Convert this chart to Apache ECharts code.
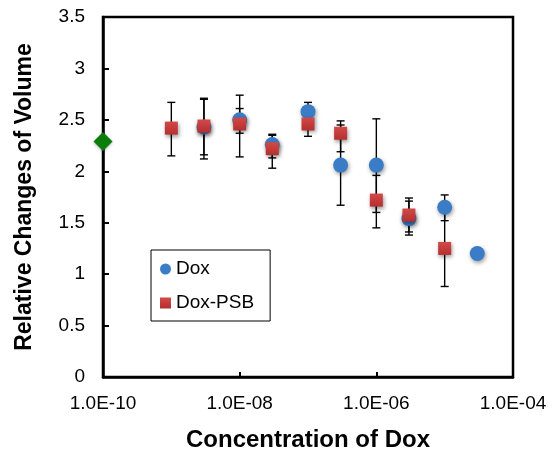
<!DOCTYPE html>
<html>
<head>
<meta charset="utf-8">
<script src="https://cdn.jsdelivr.net/npm/echarts@6/dist/echarts.min.js"></script>
<style>
  html, body { margin: 0; padding: 0; background: #fff; }
  #chart { width: 556px; height: 452px; }
</style>
</head>
<body>
<div id="chart"></div>
<script>
// 数据：浓度 (M) 与相对体积变化
var doxConc = [3e-9, 1e-8, 3e-8, 1e-7, 3e-7, 1e-6, 3e-6, 1e-5, 3e-5];
var doxVal  = [2.43, 2.50, 2.26, 2.58, 2.06, 2.06, 1.54, 1.65, 1.20];
var doxLow  = [2.12, 2.37, 2.13, 2.49, 1.67, 1.60, 1.38, 1.52, null];
var doxHigh = [2.70, 2.61, 2.36, 2.67, 2.45, 2.51, 1.71, 1.77, null];

var psbConc = [1e-9, 3e-9, 1e-8, 3e-8, 1e-7, 3e-7, 1e-6, 3e-6, 1e-5];
var psbVal  = [2.42, 2.44, 2.46, 2.22, 2.46, 2.37, 1.72, 1.575, 1.25];
var psbLow  = [2.15, 2.16, 2.14, 2.03, 2.34, 2.19, 1.45, 1.41, 0.88];
var psbHigh = [2.67, 2.71, 2.74, 2.35, 2.58, 2.49, 1.96, 1.74, 1.62];

var ctrlConc = [1e-10];
var ctrlVal  = [2.29];

var xTicks = [-10, -8, -6, -4];

var FONT = 'Liberation Sans, Arial, sans-serif';

(function () {
  var myChart = echarts.init(document.getElementById('chart'));

  function pts(conc, vals) {
    return conc.map(function (c, i) { return [Math.log10(c), vals[i]]; });
  }
  function bars(conc, lo, hi) {
    var out = [];
    conc.forEach(function (c, i) {
      if (lo[i] != null) out.push([Math.log10(c), lo[i], hi[i]]);
    });
    return out;
  }
  // 误差线
  function errRender(params, api) {
    var x = api.value(0);
    var top = api.coord([x, api.value(2)]);
    var bot = api.coord([x, api.value(1)]);
    var w = 4;
    var st = { stroke: '#000', lineWidth: 1.4 };
    return {
      type: 'group',
      children: [
        { type: 'line', shape: { x1: top[0], y1: top[1], x2: bot[0], y2: bot[1] }, style: st },
        { type: 'line', shape: { x1: top[0] - w, y1: top[1], x2: top[0] + w, y2: top[1] }, style: st },
        { type: 'line', shape: { x1: bot[0] - w, y1: bot[1], x2: bot[0] + w, y2: bot[1] }, style: st }
      ]
    };
  }

  var shadow = {
    opacity: 1,
    shadowBlur: 4,
    shadowColor: 'rgba(0,0,0,0.4)',
    shadowOffsetX: 1,
    shadowOffsetY: 2
  };

  var option = {
    animation: false,
    textStyle: { fontFamily: FONT },
    grid: {
      left: 103, right: 43, top: 17, bottom: 75,
      containLabel: false,
      outerBoundsMode: 'none',
      show: true,
      borderColor: '#000',
      borderWidth: 2.5
    },
    legend: {
      data: ['Dox', 'Dox-PSB'],
      orient: 'vertical',
      left: 151,
      top: 250,
      padding: [8, 16, 7, 9],
      itemGap: 12,
      itemWidth: 11,
      itemHeight: 11,
      borderColor: '#000',
      borderWidth: 1,
      textStyle: { fontSize: 19, color: '#000', fontFamily: FONT, lineHeight: 22 }
    },
    xAxis: {
      type: 'value',
      min: -10,
      max: -4,
      interval: 2,
      name: 'Concentration of Dox',
      nameLocation: 'middle',
      nameGap: 51,
      nameTextStyle: { fontSize: 24, fontWeight: 'bold', color: '#000', fontFamily: FONT },
      axisLine: { lineStyle: { color: '#000', width: 2.5 } },
      axisTick: { inside: true, length: 5, lineStyle: { color: '#000', width: 2 } },
      splitLine: { show: false },
      axisLabel: {
        fontSize: 19,
        color: '#000',
        margin: 17,
        formatter: function (v) {
          if (xTicks.indexOf(v) < 0) return '';
          return '1.0E-' + String(-v).padStart(2, '0');
        }
      }
    },
    yAxis: {
      type: 'value',
      min: 0,
      max: 3.5,
      interval: 0.5,
      name: 'Relative Changes of Volume',
      nameLocation: 'middle',
      nameGap: 67,
      nameTextStyle: { fontSize: 23, fontWeight: 'bold', color: '#000', fontFamily: FONT },
      axisLine: { lineStyle: { color: '#000', width: 2.5 } },
      axisTick: { inside: true, length: 6, lineStyle: { color: '#000', width: 2 } },
      splitLine: { show: false },
      axisLabel: { fontSize: 19, color: '#000', margin: 18 }
    },
    series: [
      {
        name: 'doxErr',
        type: 'custom',
        renderItem: errRender,
        data: bars(doxConc, doxLow, doxHigh),
        encode: { x: 0, y: [1, 2] },
        z: 1
      },
      {
        name: 'psbErr',
        type: 'custom',
        renderItem: errRender,
        data: bars(psbConc, psbLow, psbHigh),
        encode: { x: 0, y: [1, 2] },
        z: 1
      },
      {
        name: 'Dox',
        type: 'scatter',
        symbol: 'circle',
        symbolSize: 15,
        itemStyle: Object.assign({ color: '#3a7cc6' }, shadow),
        data: pts(doxConc, doxVal),
        z: 2
      },
      {
        name: 'Dox-PSB',
        type: 'scatter',
        symbol: 'rect',
        symbolSize: 13,
        itemStyle: Object.assign({
          color: new echarts.graphic.LinearGradient(0, 0, 0, 1, [
            { offset: 0, color: '#d24a48' },
            { offset: 1, color: '#b52f2f' }
          ])
        }, shadow),
        data: pts(psbConc, psbVal),
        z: 3
      },
      {
        name: 'Control',
        type: 'scatter',
        symbol: 'diamond',
        symbolSize: 19,
        clip: false,
        itemStyle: { color: '#0a7d0a', opacity: 1, shadowBlur: 3, shadowColor: 'rgba(0,0,0,0.3)', shadowOffsetY: 1 },
        data: pts(ctrlConc, ctrlVal),
        z: 4
      }
    ]
  };
  myChart.setOption(option);
  window.addEventListener('resize', function () {
    myChart.resize();
  });
})();
</script>
</body>
</html>
